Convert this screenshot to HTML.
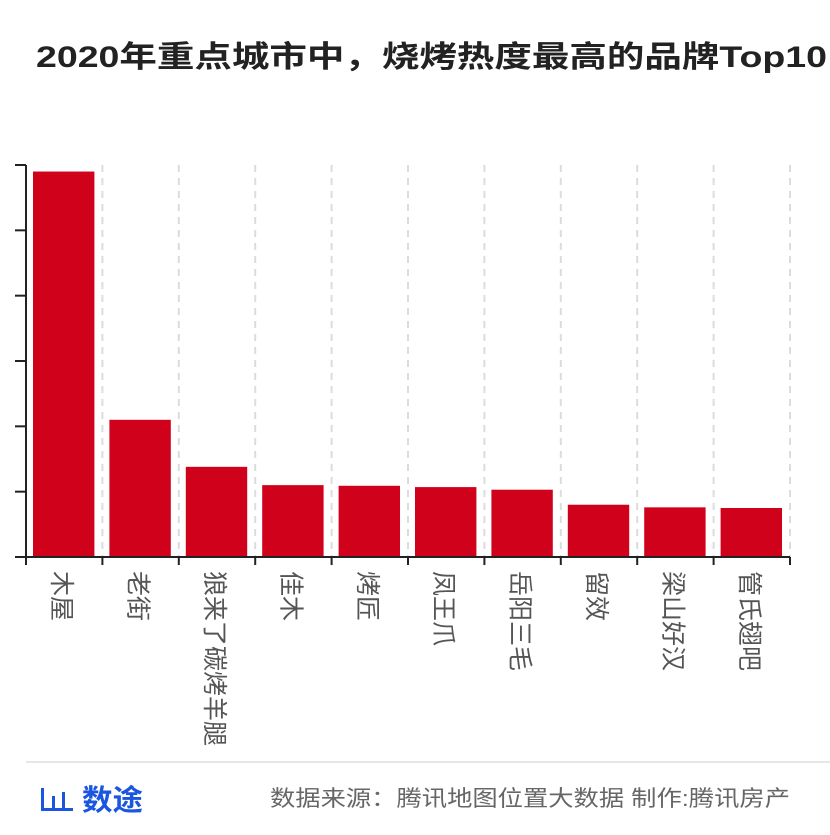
<!DOCTYPE html>
<html><head><meta charset="utf-8"><style>
body{margin:0;background:#fff;width:830px;height:830px;overflow:hidden;font-family:"Liberation Sans","Noto Sans CJK SC",sans-serif}
</style></head><body>
<svg id="c" width="830" height="830" xmlns="http://www.w3.org/2000/svg">
<text x="36" y="67" font-size="30" font-weight="bold" fill="#222" textLength="791" lengthAdjust="spacingAndGlyphs" font-family="Liberation Sans, Noto Sans CJK SC, sans-serif">2020年重点城市中，烧烤热度最高的品牌Top10</text>
<line x1="26" y1="762" x2="830" y2="762" stroke="#e6e6e6" stroke-width="2"/>
<g>
<rect x="41" y="788" width="3" height="22" fill="#1a56e0"/><rect x="41" y="808" width="32" height="3" fill="#1a56e0"/>
<rect x="52" y="796" width="3" height="12" fill="#1a56e0"/><rect x="62" y="792" width="3" height="16" fill="#1a56e0"/>
<text x="82" y="810" font-size="29" font-weight="bold" fill="#1a56e0" textLength="61" lengthAdjust="spacingAndGlyphs" font-family="Liberation Sans, Noto Sans CJK SC, sans-serif">数途</text>
</g>
<text x="270" y="806" font-size="22" fill="#666" textLength="520" lengthAdjust="spacingAndGlyphs" font-family="Liberation Sans, Noto Sans CJK SC, sans-serif">数据来源：腾讯地图位置大数据  制作:腾讯房产</text>
</svg>
<script>
const categories=["木屋","老街","狼来了碳烤羊腿","佳木","烤匠","凤王爪","岳阳三毛","留效","梁山好汉","管氏翅吧"];
const values=[5.9,2.1,1.38,1.1,1.09,1.07,1.03,0.8,0.76,0.75];
const yTicks=[0,1,2,3,4,5,6];
const svg=document.getElementById('c');
const NS='http://www.w3.org/2000/svg';
const X0=26,X1=790,Y0=557,Y1=165,YMAX=6;
const bw=(X1-X0)/categories.length;
const y=v=>Y0-(v/YMAX)*(Y0-Y1);
const x=i=>X0+i*bw;
function mk(t,a){const e=document.createElementNS(NS,t);for(const k in a)e.setAttribute(k,a[k]);svg.appendChild(e);return e;}
for(let i=1;i<=categories.length;i++){
  const g=mk('line',{x1:x(i),x2:x(i),y1:Y1,y2:Y0,stroke:'#dcdcdc','stroke-width':2,'stroke-dasharray':'7,6'});
  
  
}
categories.forEach((c,i)=>{
  const r=mk('rect',{x:x(i)+7,y:y(values[i]),width:bw-15,height:Y0-y(values[i]),fill:'#d0021b'});
  
  
  const cx=x(i)+bw/2-11;
  const t=mk('text',{x:cx,y:571,transform:`rotate(90 ${cx} 571)`,'font-size':25,fill:'#555','font-family':'Liberation Sans, Noto Sans CJK SC, sans-serif'});
  t.textContent=c;
  
  
});
yTicks.forEach(v=>{
  const t=mk('line',{x1:15,x2:X0,y1:y(v),y2:y(v),stroke:'#222','stroke-width':2});
  
  
});
for(let i=0;i<=categories.length;i++){
  const t=mk('line',{x1:x(i),x2:x(i),y1:Y0,y2:565,stroke:'#222','stroke-width':2});
  
  
}
const ya=mk('line',{x1:X0,x2:X0,y1:Y1,y2:Y0+1,stroke:'#222','stroke-width':2});


const xa=mk('line',{x1:15,x2:X1,y1:Y0,y2:Y0,stroke:'#222','stroke-width':2});


</script>
</body></html>
